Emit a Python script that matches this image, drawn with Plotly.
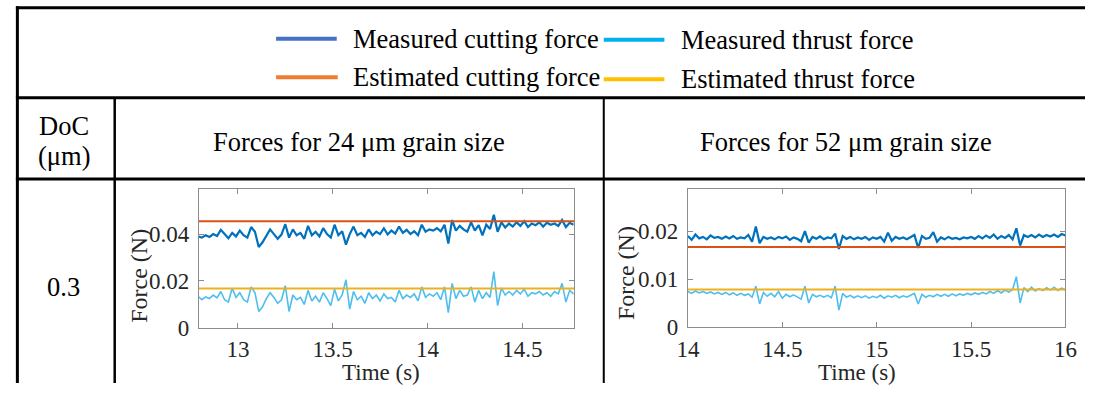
import numpy as np
import plotly.graph_objects as go

W, H = 1097, 396

# ---------------- data ----------------
t_24 = np.round(np.arange(12.79, 14.78, 0.02), 2)
cut_meas_24 = [
    0.0390, 0.0385, 0.0395, 0.0388, 0.0400, 0.0392, 0.0418, 0.0398, 0.0382, 0.0405,
    0.0390, 0.0415, 0.0395, 0.0385, 0.0430, 0.0410, 0.0345, 0.0365, 0.0390, 0.0420,
    0.0400, 0.0380, 0.0398, 0.0442, 0.0385, 0.0420, 0.0395, 0.0405, 0.0380, 0.0435,
    0.0395, 0.0410, 0.0390, 0.0425, 0.0400, 0.0385, 0.0440, 0.0395, 0.0412, 0.0355,
    0.0400, 0.0432, 0.0395, 0.0405, 0.0388, 0.0420, 0.0395, 0.0410, 0.0400, 0.0425,
    0.0398, 0.0415, 0.0402, 0.0432, 0.0405, 0.0418, 0.0400, 0.0412, 0.0395, 0.0440,
    0.0410, 0.0420, 0.0415, 0.0425, 0.0412, 0.0440, 0.0360, 0.0460, 0.0415, 0.0435,
    0.0420, 0.0410, 0.0450, 0.0415, 0.0438, 0.0395, 0.0440, 0.0422, 0.0482, 0.0410,
    0.0450, 0.0428, 0.0445, 0.0432, 0.0450, 0.0435, 0.0455, 0.0430, 0.0445, 0.0438,
    0.0450, 0.0432, 0.0448, 0.0440, 0.0445, 0.0435, 0.0460, 0.0430, 0.0448, 0.0440,
]
thr_meas_24 = [
    0.0135, 0.0120, 0.0132, 0.0125, 0.0140, 0.0128, 0.0155, 0.0120, 0.0110, 0.0170,
    0.0130, 0.0150, 0.0120, 0.0110, 0.0175, 0.0150, 0.0070, 0.0090, 0.0125, 0.0150,
    0.0130, 0.0105, 0.0120, 0.0180, 0.0070, 0.0140, 0.0120, 0.0130, 0.0100, 0.0160,
    0.0115, 0.0135, 0.0110, 0.0150, 0.0125, 0.0095, 0.0165, 0.0115, 0.0140, 0.0205,
    0.0080, 0.0155, 0.0120, 0.0135, 0.0105, 0.0150, 0.0125, 0.0140, 0.0115, 0.0145,
    0.0125, 0.0130, 0.0110, 0.0160, 0.0125, 0.0140, 0.0130, 0.0145, 0.0115, 0.0175,
    0.0130, 0.0145, 0.0135, 0.0150, 0.0120, 0.0175, 0.0065, 0.0190, 0.0125, 0.0160,
    0.0135, 0.0140, 0.0175, 0.0110, 0.0160, 0.0125, 0.0150, 0.0130, 0.0240, 0.0095,
    0.0170, 0.0140, 0.0155, 0.0140, 0.0160, 0.0145, 0.0165, 0.0135, 0.0150, 0.0145,
    0.0155, 0.0140, 0.0150, 0.0135, 0.0155, 0.0145, 0.0190, 0.0110, 0.0160, 0.0145,
]
cut_est_24 = 0.0455
thr_est_24 = 0.0168

t_52 = np.round(np.arange(14.0, 16.001, 0.02), 2)
cut_meas_52 = [
    0.0190, 0.0182, 0.0193, 0.0185, 0.0188, 0.0183, 0.0191, 0.0186, 0.0188, 0.0184,
    0.0189, 0.0185, 0.0190, 0.0184, 0.0187, 0.0185, 0.0192, 0.0178, 0.0210, 0.0175,
    0.0188, 0.0184, 0.0187, 0.0183, 0.0188, 0.0185, 0.0189, 0.0182, 0.0187, 0.0184,
    0.0179, 0.0200, 0.0176, 0.0188, 0.0184, 0.0189, 0.0183, 0.0187, 0.0185, 0.0195,
    0.0163, 0.0190, 0.0184, 0.0188, 0.0183, 0.0187, 0.0184, 0.0188, 0.0182, 0.0187,
    0.0184, 0.0188, 0.0178, 0.0197, 0.0180, 0.0188, 0.0184, 0.0187, 0.0183, 0.0188,
    0.0192, 0.0165, 0.0190, 0.0184, 0.0186, 0.0198, 0.0178, 0.0187, 0.0183, 0.0188,
    0.0184, 0.0186, 0.0183, 0.0187, 0.0185, 0.0188, 0.0184, 0.0190, 0.0185, 0.0191,
    0.0186, 0.0193, 0.0184, 0.0190, 0.0186, 0.0192, 0.0183, 0.0206, 0.0170, 0.0192,
    0.0188, 0.0192, 0.0187, 0.0193, 0.0188, 0.0192, 0.0189, 0.0193, 0.0188, 0.0194,
    0.0191,
]
thr_meas_52 = [
    0.0074, 0.0070, 0.0075, 0.0071, 0.0074, 0.0070, 0.0073, 0.0069, 0.0072, 0.0068,
    0.0072, 0.0067, 0.0071, 0.0066, 0.0070, 0.0066, 0.0069, 0.0062, 0.0085, 0.0048,
    0.0072, 0.0064, 0.0070, 0.0063, 0.0074, 0.0060, 0.0068, 0.0063, 0.0067, 0.0062,
    0.0058, 0.0085, 0.0050, 0.0068, 0.0063, 0.0066, 0.0062, 0.0066, 0.0061, 0.0085,
    0.0035, 0.0070, 0.0062, 0.0066, 0.0061, 0.0065, 0.0061, 0.0065, 0.0060, 0.0064,
    0.0061, 0.0066, 0.0060, 0.0065, 0.0062, 0.0066, 0.0061, 0.0065, 0.0062, 0.0066,
    0.0070, 0.0048, 0.0068, 0.0062, 0.0066, 0.0063, 0.0068, 0.0064, 0.0068, 0.0064,
    0.0069, 0.0065, 0.0069, 0.0066, 0.0070, 0.0067, 0.0071, 0.0068, 0.0072, 0.0069,
    0.0074, 0.0070, 0.0076, 0.0071, 0.0077, 0.0073, 0.0078, 0.0105, 0.0050, 0.0082,
    0.0074, 0.0083, 0.0075, 0.0080, 0.0076, 0.0082, 0.0077, 0.0083, 0.0076, 0.0081,
    0.0077,
]
cut_est_52 = 0.0167
thr_est_52 = 0.0078

legend_labels = ["Measured cutting force", "Measured thrust force",
                 "Estimated cutting force", "Estimated thrust force"]
legend_colors = ["#4472C4", "#00B0F0", "#ED7D31", "#FFC000"]
header_labels = ["Forces for 24 \u03bcm grain size", "Forces for 52 \u03bcm grain size"]
doc_value = "0.3"

x24_ticks = [13, 13.5, 14, 14.5]
x24_text = ["13", "13.5", "14", "14.5"]
y24_ticks = [0, 0.02, 0.04]
y24_text = ["0", "0.02", "0.04"]
x52_ticks = [14, 14.5, 15, 15.5, 16]
x52_text = ["14", "14.5", "15", "15.5", "16"]
y52_ticks = [0, 0.01, 0.02]
y52_text = ["0", "0.01", "0.02"]

# ---------------- styling ----------------
FONT = "Liberation Serif, Times New Roman, serif"
C_CUT, C_THR, C_CEST, C_TEST = "#0072BD", "#4DBEEE", "#D95319", "#EDB120"
TXT = 26.5
AX = 23


def px(x):
    return x / W


def py(y):
    return 1 - y / H


fig = go.Figure()

# left plot (24 um)
fig.add_trace(go.Scatter(x=t_24, y=cut_meas_24, mode="lines", line=dict(color=C_CUT, width=2.2), xaxis="x", yaxis="y"))
fig.add_trace(go.Scatter(x=t_24, y=thr_meas_24, mode="lines", line=dict(color=C_THR, width=1.6), xaxis="x", yaxis="y"))
fig.add_trace(go.Scatter(x=[12.79, 14.78], y=[cut_est_24] * 2, mode="lines", line=dict(color=C_CEST, width=2), xaxis="x", yaxis="y"))
fig.add_trace(go.Scatter(x=[12.79, 14.78], y=[thr_est_24] * 2, mode="lines", line=dict(color=C_TEST, width=2), xaxis="x", yaxis="y"))

# right plot (52 um)
fig.add_trace(go.Scatter(x=t_52, y=cut_meas_52, mode="lines", line=dict(color=C_CUT, width=2.2), xaxis="x2", yaxis="y2"))
fig.add_trace(go.Scatter(x=[14, 16], y=[cut_est_52] * 2, mode="lines", line=dict(color=C_CEST, width=2), xaxis="x2", yaxis="y2"))
fig.add_trace(go.Scatter(x=t_52, y=thr_meas_52, mode="lines", line=dict(color=C_THR, width=1.6), xaxis="x2", yaxis="y2"))
fig.add_trace(go.Scatter(x=[14, 16], y=[thr_est_52] * 2, mode="lines", line=dict(color=C_TEST, width=2), xaxis="x2", yaxis="y2"))

axis_common = dict(
    showgrid=False, zeroline=False, showline=True, mirror="ticks",
    linecolor="#8c8c8c", linewidth=1, ticks="inside", ticklen=5,
    tickcolor="#8c8c8c", tickfont=dict(family=FONT, size=AX, color="#262626"),
)

fig.update_layout(
    width=W, height=H, autosize=False,
    margin=dict(l=0, r=0, t=0, b=0),
    paper_bgcolor="white", plot_bgcolor="white",
    showlegend=False,
    xaxis=dict(domain=[px(191), px(575)], range=[12.794, 14.775], tickvals=x24_ticks,
               ticktext=x24_text, anchor="y", ticklabelstandoff=1, **axis_common),
    yaxis=dict(domain=[py(339), py(195)], range=[0, 0.0594], tickvals=y24_ticks,
               ticktext=y24_text, anchor="x", ticklabelstandoff=4, **axis_common),
    xaxis2=dict(domain=[px(691), px(1077)], range=[14, 16], tickvals=x52_ticks,
                ticktext=x52_text, anchor="y2", ticklabelstandoff=1, **axis_common),
    yaxis2=dict(domain=[py(338), py(195)], range=[0, 0.0289], tickvals=y52_ticks,
                ticktext=y52_text, anchor="x2", ticklabelstandoff=4, **axis_common),
)

shapes = []


def hline(y, x0, x1, w):
    shapes.append(dict(type="line", xref="paper", yref="paper", x0=px(x0), x1=px(x1),
                       y0=py(y), y1=py(y), line=dict(color="black", width=w)))


def vline(x, y0, y1, w):
    shapes.append(dict(type="line", xref="paper", yref="paper", x0=px(x), x1=px(x),
                       y0=py(y0), y1=py(y1), line=dict(color="black", width=w)))


hline(8, 4, 1097, 3)
hline(101, 4, 1097, 3)
hline(185, 4, 1097, 3)
vline(5.5, 6.5, 396, 3)
vline(105, 101, 396, 2.5)
vline(605, 101, 396, 2)

annotations = []

# legend row (drawn manually, inside the table)
leg_pos = [(270, 332, 347, 40), (605, 667, 682, 41), (270, 333, 347, 80), (605, 667, 682, 82)]
for (lx0, lx1, tx, ty), lab, col in zip(leg_pos, legend_labels, legend_colors):
    shapes.append(dict(type="line", xref="paper", yref="paper", x0=px(lx0), x1=px(lx1),
                       y0=py(ty), y1=py(ty), line=dict(color=col, width=4)))
    annotations.append(dict(x=px(tx), y=py(ty), xref="paper", yref="paper", text=lab,
                            showarrow=False, xanchor="left", yanchor="middle",
                            font=dict(family=FONT, size=TXT, color="black")))

# header cells and DoC value
for text, xc, yc in [("DoC", 53, 130), ("(\u03bcm)", 53, 161), (header_labels[0], 355, 147),
                     (header_labels[1], 853, 147), (doc_value, 53, 297)]:
    annotations.append(dict(x=px(xc), y=py(yc), xref="paper", yref="paper", text=text, showarrow=False,
                            xanchor="center", yanchor="middle", font=dict(family=FONT, size=TXT, color="black")))

# axis titles
for xc, yc in [(129, 285), (627, 282)]:
    annotations.append(dict(x=px(xc), y=py(yc), xref="paper", yref="paper", text="Force (N)", textangle=-90,
                            showarrow=False, xanchor="center", yanchor="middle",
                            font=dict(family=FONT, size=AX + 1, color="#262626")))
for xc in [377, 864]:
    annotations.append(dict(x=px(xc), y=py(385), xref="paper", yref="paper", text="Time (s)",
                            showarrow=False, xanchor="center", yanchor="middle",
                            font=dict(family=FONT, size=AX, color="#262626")))

fig.update_layout(shapes=shapes, annotations=annotations)

page_fix = (
    "var s=document.createElement('style');"
    "s.innerHTML='html,body{margin:0;padding:0;overflow:hidden;}';"
    "document.head.appendChild(s);"
)
fig.write_html("out.html", config={"displayModeBar": False}, post_script=page_fix)
